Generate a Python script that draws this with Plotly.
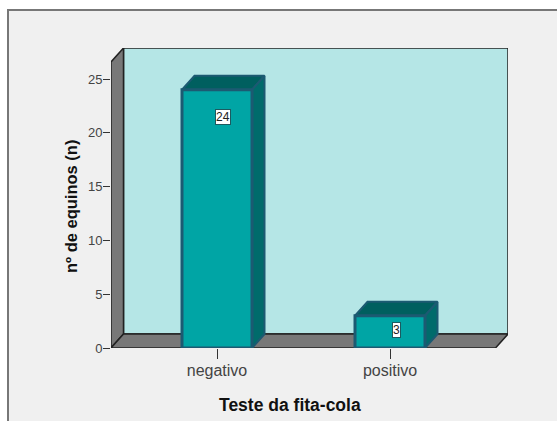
import plotly.graph_objects as go

categories = ["negativo", "positivo"]
counts = [24, 3]
y_ticks = [0, 5, 10, 15, 20, 25]
label_values = [21.45, 1.7]
x_title = "Teste da fita-cola"
y_title = "nº de equinos (n)"

W, H = 557, 421
L, R, T, B = 111, 508, 48, 348
PX_PER_UNIT = 10.76
PX_PER_CAT = 173
X0 = 217
DEPTH_X = 12.5 / PX_PER_CAT
DEPTH_Y = 14 / PX_PER_UNIT
HALF = 35 / PX_PER_CAT
LABEL_SHIFT = 6 / PX_PER_CAT
xmin = (L - X0) / PX_PER_CAT
xmax = (R - X0) / PX_PER_CAT
xfront = xmax - DEPTH_X
ymax = (B - T) / PX_PER_UNIT

GREY, WALL = "#787878", "#b5e6e6"
FRONT, TOP, SIDE, EDGE = "#00a5a5", "#005f5f", "#006b6b", "#1c5a72"


def px(x):
    return (x - L) / (R - L)


def py(y):
    return (B - y) / (B - T)


fig = go.Figure()


def poly(xs, ys, fill, line="#222222", width=1.5):
    fig.add_trace(go.Scatter(x=xs + xs[:1], y=ys + ys[:1], mode="lines", fill="toself",
                             fillcolor=fill, line=dict(color=line, width=width),
                             hoverinfo="skip", showlegend=False))


poly([xmin + DEPTH_X, xmax, xmax, xmin + DEPTH_X], [DEPTH_Y, DEPTH_Y, ymax, ymax], WALL)
poly([xmin, xmin + DEPTH_X, xmin + DEPTH_X, xmin], [0, DEPTH_Y, ymax, ymax - DEPTH_Y], GREY)
poly([xmin, xfront, xmax, xmin + DEPTH_X], [0, 0, DEPTH_Y, DEPTH_Y], GREY)

for i, v in enumerate(counts):
    a, b = i - HALF, i + HALF
    poly([a, a + DEPTH_X, b + DEPTH_X, b], [v, v + DEPTH_Y, v + DEPTH_Y, v], TOP, EDGE, 2)
    poly([b, b + DEPTH_X, b + DEPTH_X, b], [0, DEPTH_Y, v + DEPTH_Y, v], SIDE, EDGE, 2)
    poly([a, b, b, a], [0, 0, v, v], FRONT, EDGE, 3)

annotations = [
    dict(x=i + LABEL_SHIFT, y=label_values[i], text=str(v), showarrow=False, bgcolor="white",
         bordercolor="#1c5a60", borderwidth=1, borderpad=0,
         font=dict(family="Liberation Sans, Arial", size=12, color="#222222"))
    for i, v in enumerate(counts)
]
annotations += [
    dict(xref="paper", yref="paper", x=px(289.5), y=py(405), text=f"<b>{x_title}</b>",
         showarrow=False, xanchor="center", yanchor="middle",
         font=dict(family="Liberation Sans, Arial", size=17.5, color="#111111")),
    dict(xref="paper", yref="paper", x=px(71), y=py(207), text=f"<b>{y_title}</b>", textangle=-90,
         showarrow=False, xanchor="center", yanchor="middle",
         font=dict(family="Liberation Sans, Arial", size=16.5, color="#111111")),
]

fig.update_layout(
    width=W, height=H, autosize=False,
    margin=dict(l=L, r=W - R, t=T, b=H - B, pad=0),
    paper_bgcolor="white", plot_bgcolor="#f0f0f0",
    font=dict(family="Liberation Sans, Arial", size=12, color="#444444"),
    showlegend=False, annotations=annotations,
    xaxis=dict(range=[xmin, xmax], tickmode="array", tickvals=[0, 1], ticktext=categories,
               showgrid=False, zeroline=False, showline=False, ticks="outside", ticklen=10,
               ticklabelstandoff=-2,
               tickwidth=1, tickcolor="#333333", tickfont=dict(size=16, color="#444444")),
    yaxis=dict(range=[0, ymax], tickmode="array", tickvals=y_ticks,
               showgrid=False, zeroline=False, showline=False, ticks="outside", ticklen=7,
               ticklabelstandoff=-2,
               tickwidth=1, tickcolor="#333333", tickfont=dict(size=13, color="#444444")),
    shapes=[dict(type="rect", layer="below", xref="paper", yref="paper",
                 x0=px(8), x1=px(575), y0=py(440), y1=py(10),
                 fillcolor="#f0f0f0", line=dict(color="#777777", width=2))],
)
fig.write_html("out.html", config=dict(displayModeBar=False),
               post_script="document.body.style.margin='0';")
